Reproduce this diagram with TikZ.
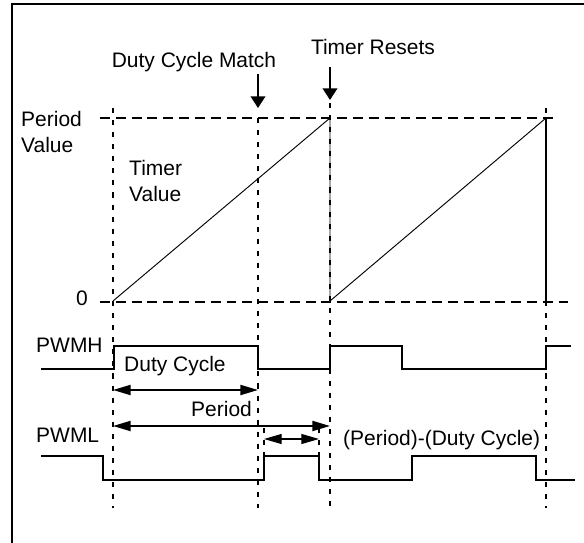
\documentclass[tikz,border=0pt]{standalone}
\usepackage{fontspec}
\setmainfont{Liberation Sans}
\usetikzlibrary{arrows.meta,positioning}

\begin{document}
\begin{tikzpicture}[x=0.3mm, y=-0.3mm, font=\fontsize{17.9}{21.5}\selectfont,
    lbl/.style={inner sep=0pt},
    signal/.style={line width=1.7pt},
    level/.style={line width=1.7pt, dash pattern=on 8.5pt off 5pt},
    guide/.style={line width=1.6pt, dash pattern=on 4.3pt off 6pt},
    ramp/.style={line width=0.8pt},
    span/.style={line width=1.7pt, {Triangle[length=15pt,width=8.5pt]}-{Triangle[length=15pt,width=8.5pt]}},
    marker/.style={line width=1.7pt, -{Triangle[length=10pt,width=12.5pt]}}]
    \useasboundingbox (0,0) rectangle (584,543);

    % Frame
    \draw[line width=1.7pt] (12,543) -- (12,4.3) -- (584,4.3);

    % Time instants
    \coordinate (tA) at (113,0);
    \coordinate (tB) at (258,0);
    \coordinate (tC) at (330,0);
    \coordinate (tD) at (546,0);

    % Vertical guides
    \draw[guide] (tA |- 0,108) -- (tA |- 0,508);
    \draw[guide] (tB |- 0,118) -- (tB |- 0,508);
    \draw[guide] (tC |- 0,103) -- (tC |- 0,508);
    \draw[guide] (tD |- 0,108) -- (tD |- 0,508);
    \draw[guide] (264,428) -- (264,456);
    \draw[guide] (319,428) -- (319,456);

    % Period value and zero levels
    \draw[level] (100,118) -- (553,118);
    \draw[level] (100,302) -- (568,302);

    % Timer ramp
    \draw[ramp] (tA |- 0,301) -- (tC |- 0,118) -- (tC |- 0,301) -- (tD |- 0,118);
    \draw[signal] (tD |- 0,118) -- (tD |- 0,302);

    % Top markers
    \node[lbl, anchor=base] (lblmatch) at (194,68) {Duty Cycle Match};
    \node[lbl, anchor=base] (lblreset) at (373,55) {Timer Resets};
    \draw[marker] (tB |- 0,74) -- (tB |- 0,108);
    \draw[marker] (tC |- 0,67) -- (tC |- 0,100);

    % Axis labels
    \node[lbl, align=left, anchor=west] (lblperiodval) at (21,132) {Period\\Value};
    \node[lbl, align=left, anchor=west] (lbltimerval) at (129,181) {Timer\\Value};
    \node[lbl, anchor=base] (lblzero) at (82,305) {0};

    % PWM outputs
    \node[lbl, anchor=base west] (lblpwmh) at (36,352) {PWMH};
    \node[lbl, anchor=base west] (lblpwml) at (36,442) {PWML};
    \draw[signal] (41,369) -- (114,369) -- (114,346) -- (258,346) -- (258,369)
        -- (330,369) -- (330,346) -- (402,346) -- (402,369) -- (546,369)
        -- (546,346) -- (571,346);
    \draw[signal] (41,456) -- (103,456) -- (103,480) -- (264,480) -- (264,456)
        -- (319,456) -- (319,480) -- (412,480) -- (412,456) -- (536,456)
        -- (536,480) -- (575,480);

    % Spans
    \node[lbl, anchor=base west] (lblduty) at (124,371) {Duty Cycle};
    \node[lbl, anchor=base west] (lblperiod) at (191,416) {Period};
    \node[lbl, anchor=base west] (lbldiff) at (343,445) {(Period)-(Duty Cycle)};
    \draw[span] (tA |- 0,390) -- (tB |- 0,390);
    \draw[span] (tA |- 0,426) -- (tC |- 0,426);
    \draw[span, line width=0.9pt] (264,439) -- (319,439);
\end{tikzpicture}
\end{document}
